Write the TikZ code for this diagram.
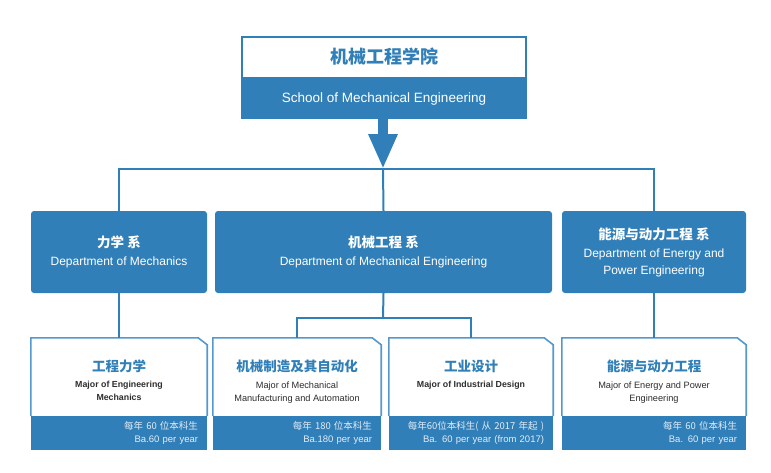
\documentclass[tikz,border=0pt]{standalone}
\usepackage{fontspec}
\setmainfont{Liberation Sans}
\newfontfamily\cjk{Noto Sans CJK SC}
\usetikzlibrary{positioning,arrows.meta}
\definecolor{mechblue}{RGB}{49,127,184}
\definecolor{majorline}{RGB}{84,152,206}
\definecolor{majorgray}{RGB}{45,45,45}
\definecolor{bandtext}{RGB}{226,237,247}

\begin{document}
\begin{tikzpicture}[x=1pt,y=-1pt,
    link/.style={draw=mechblue,line width=2pt},
    fatarrow/.style={draw=mechblue,line width=10pt,-{Triangle[width=27pt,length=35pt]}},
    dept/.style={fill=mechblue,rounded corners=3pt,text=white,align=center,
      inner sep=0pt,minimum height=82pt,font=\fontsize{12}{16.5}\selectfont},
    major/.style={fill=white,inner sep=0pt,minimum height=78pt},
    majorrim/.style={draw=majorline,line width=1.6pt,line join=miter},
    majtitle/.style={inner sep=0pt,text=mechblue,font=\cjk\bfseries\fontsize{13.5}{16}\selectfont},
    majsub/.style={inner sep=0pt,align=center,text=majorgray,font=\fontsize{9.2}{13}\selectfont},
    band/.style={fill=mechblue,text=bandtext,align=right,inner xsep=9pt,inner ysep=0pt,
      minimum height=34pt,font=\fontsize{9.5}{13}\selectfont}]
\useasboundingbox (0,0) rectangle (771,472);

% school
\node[draw=mechblue,line width=2pt,fill=white,minimum width=284pt,minimum height=41pt,
  text=mechblue,font=\cjk\bfseries\fontsize{18}{20}\selectfont] (school) at (384,57) {机械工程学院};
\node[fill=mechblue,minimum width=286pt,minimum height=40pt,text=white,
  font=\fontsize{13.5}{16}\selectfont,below=0pt of school] (schoolen) {School of Mechanical Engineering};
\coordinate (hub) at (383,169);
\draw[fatarrow] (schoolen.south -| hub) -- (hub);

% departments
\node[dept,minimum width=176pt] (mechdept) at (119,252)
  {{\cjk\bfseries\fontsize{13.5}{18}\selectfont 力学 系}\\[1pt] Department of Mechanics};
\node[dept,minimum width=337pt] (medept) at (383.5,252)
  {{\cjk\bfseries\fontsize{13.5}{18}\selectfont 机械工程 系}\\[1pt] Department of Mechanical Engineering};
\node[dept,minimum width=184pt] (energydept) at (654,252)
  {{\cjk\bfseries\fontsize{13.5}{18}\selectfont 能源与动力工程 系}\\[2pt] Department of Energy and\\ Power Engineering};
\draw[link] (mechdept.north) |- (hub) -| (energydept.north);
\draw[link] (hub) -- (medept.north);

% majors
\node[major,minimum width=176pt] (mechmaj) at (119,377) {};
\node[major,minimum width=168pt] (mfgmaj) at (297,377) {};
\node[major,minimum width=164pt] (indmaj) at (471,377) {};
\node[major,minimum width=184pt] (enmaj) at (654,377) {};
\foreach \m in {mechmaj,mfgmaj,indmaj,enmaj}
  \draw[majorrim] (\m.south west) |- ([xshift=-9pt]\m.north east)
    -- ([yshift=-7pt]\m.north east) -- (\m.south east);

\node[band,text width=158pt,below=0pt of mechmaj] (mechband) {{\cjk 每年 60 位本科生}\\Ba.60 per year};
\node[band,text width=150pt,below=0pt of mfgmaj] (mfgband) {{\cjk 每年 180 位本科生}\\Ba.180 per year};
\node[band,text width=146pt,below=0pt of indmaj] (indband) {{\cjk 每年60位本科生( 从 2017 年起 )}\\Ba. 60 per year (from 2017)};
\node[band,text width=166pt,below=0pt of enmaj] (enband) {{\cjk 每年 60 位本科生}\\Ba. 60 per year};

\node[majtitle,below=22pt of mechmaj.north] (mechtitle) {工程力学};
\node[majtitle,below=22pt of mfgmaj.north] (mfgtitle) {机械制造及其自动化};
\node[majtitle,below=22pt of indmaj.north] (indtitle) {工业设计};
\node[majtitle,below=22pt of enmaj.north] (entitle) {能源与动力工程};

\node[majsub,font=\bfseries\fontsize{8.8}{13}\selectfont,below=8pt of mechtitle] (mechsub) {Major of Engineering\\ Mechanics};
\node[majsub,below=8pt of mfgtitle] (mfgsub) {Major of Mechanical\\ Manufacturing and Automation};
\node[majsub,font=\bfseries\fontsize{8.8}{13}\selectfont,below=8pt of indtitle] (indsub) {Major of Industrial Design};
\node[majsub,below=8pt of entitle] (ensub) {Major of Energy and Power\\ Engineering};

\coordinate (split) at (383,318);
\draw[link] (mechdept.south) -- (mechmaj.north);
\draw[link] (medept.south) -- (split);
\draw[link] (mfgmaj.north) |- (split) -| (indmaj.north);
\draw[link] (energydept.south) -- (enmaj.north);
\end{tikzpicture}
\end{document}
